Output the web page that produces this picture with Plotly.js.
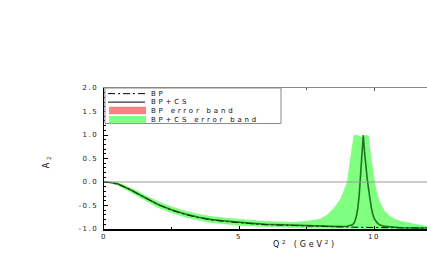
<!DOCTYPE html>
<html>
<head>
<meta charset="utf-8">
<script src="https://cdn.plot.ly/plotly-3.0.1.min.js"></script>
<style>
  html, body { margin: 0; padding: 0; background: #fff; overflow: hidden; }
  #chart { width: 427px; height: 262px; }
  .xtick text, .ytick text { letter-spacing: 1.5px; }
  .annotation-text { letter-spacing: 2.8px; }
</style>
</head>
<body>
<div id="chart"></div>
<script>
// ---- data ----
var q2 = [0,0.25,0.5,0.75,1,1.25,1.5,1.75,2,2.5,3,3.5,4,4.5,5,5.5,6,6.5,7,7.5,8,8.25,8.5,8.75,9,9.1,9.2,9.25,9.3,9.35,9.4,9.45,9.5,9.55,9.6,9.65,9.7,9.75,9.8,9.85,9.9,9.95,10,10.1,10.2,10.4,10.6,10.8,11,11.5,12];

var bpcs = [0,-0.01,-0.04,-0.10,-0.17,-0.25,-0.33,-0.41,-0.48,-0.59,-0.68,-0.75,-0.80,-0.83,-0.86,-0.88,-0.90,-0.91,-0.92,-0.93,-0.94,-0.945,-0.95,-0.95,-0.94,-0.93,-0.91,-0.88,-0.82,-0.72,-0.55,-0.28,0.08,0.58,1.0,0.62,0.3,0.05,-0.16,-0.38,-0.55,-0.68,-0.77,-0.86,-0.91,-0.945,-0.96,-0.97,-0.975,-0.98,-0.98];

var bp = [0,-0.01,-0.04,-0.10,-0.17,-0.25,-0.33,-0.41,-0.48,-0.60,-0.69,-0.76,-0.81,-0.84,-0.87,-0.89,-0.91,-0.92,-0.93,-0.94,-0.95,-0.955,-0.96,-0.96,-0.965,-0.965,-0.965,-0.965,-0.965,-0.965,-0.965,-0.965,-0.965,-0.965,-0.965,-0.965,-0.965,-0.965,-0.965,-0.965,-0.97,-0.97,-0.97,-0.97,-0.97,-0.975,-0.975,-0.975,-0.98,-0.98,-0.98];

var bpcsBandHi = [0.01,0.0,-0.01,-0.06,-0.12,-0.19,-0.27,-0.34,-0.41,-0.52,-0.61,-0.68,-0.73,-0.76,-0.79,-0.81,-0.83,-0.84,-0.85,-0.83,-0.78,-0.70,-0.56,-0.36,0.0,0.45,0.9,1.0,1.0,1.0,1.0,0.99,0.97,0.96,0.97,0.99,1.0,1.0,0.98,0.75,0.5,0.3,0.1,-0.2,-0.4,-0.62,-0.73,-0.79,-0.83,-0.89,-0.94];

var bpcsBandLo = [-0.01,-0.03,-0.07,-0.14,-0.22,-0.31,-0.39,-0.47,-0.55,-0.66,-0.75,-0.82,-0.87,-0.90,-0.93,-0.95,-0.96,-0.97,-0.98,-0.99,-0.995,-1.0,-1.0,-1.0,-1.0,-1.0,-1.0,-1.0,-1.0,-1.0,-1.0,-1.0,-1.0,-1.0,-1.0,-1.0,-1.0,-1.0,-1.0,-1.0,-1.0,-1.0,-1.0,-1.0,-1.0,-1.0,-1.0,-1.0,-1.0,-1.0,-1.0];

var bpBandX  = [0,0.5,1,1.5,2,2.5,3,4,5,6,7,8,9,10,11,12];
var bpBandHi = [0,-0.02,-0.14,-0.30,-0.45,-0.56,-0.65,-0.77,-0.83,-0.87,-0.89,-0.91,-0.93,-0.94,-0.95,-0.955];
var bpBandLo = [0,-0.06,-0.20,-0.36,-0.52,-0.63,-0.72,-0.84,-0.90,-0.94,-0.96,-0.97,-0.98,-0.98,-0.99,-0.99];

var seriesNames = ['BP', 'BP+CS', 'BP error band', 'BP+CS error band'];
var xTickVals = [0, 5, 10];
var xTickText = ['0', '5', '10'];
var yTickVals = [-1, -0.5, 0, 0.5, 1, 1.5, 2];
var yTickText = ['-1.0', '-0.5', '0.0', '0.5', '1.0', '1.5', '2.0'];
var xTitle = 'Q<sup>2</sup> (GeV<sup>2</sup>)';
var yTitle = 'A<sub>2</sub>';

// ---- styles ----
var RED = '#ff8080', GREEN = '#80ff80';
var FONT = 'DejaVu Sans, sans-serif';

function band(x, hi, lo) {
  return {
    x: x.concat(x.slice().reverse()),
    y: hi.concat(lo.slice().reverse())
  };
}
var bBP = band(bpBandX, bpBandHi, bpBandLo);
var bCS = band(q2, bpcsBandHi, bpcsBandLo);

var traces = [
  { x: bBP.x, y: bBP.y, type: 'scatter', mode: 'lines', fill: 'toself',
    fillcolor: RED, line: { width: 0, color: RED }, name: seriesNames[2], showlegend: false, hoverinfo: 'skip' },
  { x: bCS.x, y: bCS.y, type: 'scatter', mode: 'lines', fill: 'toself',
    fillcolor: GREEN, line: { width: 0, color: GREEN }, name: seriesNames[3], showlegend: false, hoverinfo: 'skip' },
  { x: q2, y: bp, type: 'scatter', mode: 'lines', name: seriesNames[0],
    line: { color: '#000', width: 1, dash: '7px,3px,2px,3px' }, showlegend: false },
  { x: q2, y: bpcs, type: 'scatter', mode: 'lines', name: seriesNames[1],
    line: { color: 'rgba(0,70,0,0.75)', width: 1.6 }, showlegend: false }
];

// legend geometry (paper fractions)
var LX0 = 0.003, LX1 = 0.548, LY0 = 0.748, LY1 = 1.0;
var sx0 = 0.0124, sx1 = 0.127, tx = 0.140;
var rows = [0.960, 0.900, 0.840, 0.776];

var shapes = [
  { type: 'line', xref: 'paper', yref: 'y', x0: 0, x1: 1, y0: 0, y1: 0,
    line: { color: '#999', width: 1 }, layer: 'above' },
  { type: 'rect', xref: 'paper', yref: 'paper', x0: LX0, x1: LX1, y0: LY0, y1: LY1,
    line: { color: '#888', width: 1 }, fillcolor: '#fff', layer: 'above' },
  { type: 'line', xref: 'paper', yref: 'paper', x0: sx0, x1: sx1, y0: rows[0], y1: rows[0],
    line: { color: '#000', width: 1, dash: '7px,3px,2px,3px' }, layer: 'above' },
  { type: 'line', xref: 'paper', yref: 'paper', x0: sx0, x1: sx1, y0: rows[1], y1: rows[1],
    line: { color: '#000', width: 1 }, layer: 'above' },
  { type: 'rect', xref: 'paper', yref: 'paper', x0: 0.0155, x1: 0.130, y0: 0.813, y1: 0.867,
    line: { width: 0 }, fillcolor: RED, layer: 'above' },
  { type: 'rect', xref: 'paper', yref: 'paper', x0: 0.0155, x1: 0.130, y0: 0.750, y1: 0.801,
    line: { width: 0 }, fillcolor: GREEN, layer: 'above' }
];

var annotations = seriesNames.map(function (n, i) {
  return { text: n, xref: 'paper', yref: 'paper', x: tx, y: rows[i],
    xanchor: 'left', yanchor: 'middle', showarrow: false,
    font: { family: FONT, size: 7, color: '#111' } };
});
annotations.push({ text: xTitle, xref: 'paper', yref: 'paper', x: 0.622, y: -0.103,
  xanchor: 'center', yanchor: 'middle', showarrow: false,
  font: { family: FONT, size: 8, color: '#111' } });
annotations.push({ text: yTitle, xref: 'paper', yref: 'paper', x: -0.176, y: 0.482,
  xanchor: 'center', yanchor: 'middle', showarrow: false, textangle: -90,
  font: { family: FONT, size: 8, color: '#111' } });

var layout = {
  width: 427, height: 262,
  margin: { l: 104, r: 0, t: 88, b: 33, pad: 0 },
  paper_bgcolor: '#fff', plot_bgcolor: '#fff',
  showlegend: false,
  font: { family: FONT, size: 7, color: '#222' },
  xaxis: {
    range: [0, 11.96], tickvals: xTickVals, ticktext: xTickText,
    ticks: 'inside', ticklen: 3, tickcolor: '#000', tickwidth: 1,
    minor: { dtick: 2.5, tick0: 0, ticks: 'inside', ticklen: 2, tickcolor: '#000', showgrid: false },
    showline: true, linecolor: '#000', linewidth: 1.5,
    showgrid: false, zeroline: false,
    tickfont: { family: FONT, size: 7, color: '#222' }
  },
  xaxis2: {
    overlaying: 'x', side: 'top', matches: 'x', range: [0, 11.96],
    tickvals: xTickVals, showticklabels: false,
    ticks: 'inside', ticklen: 3, tickcolor: '#555',
    minor: { dtick: 2.5, tick0: 0, ticks: 'inside', ticklen: 2, tickcolor: '#555', showgrid: false },
    showline: true, linecolor: '#888', linewidth: 1,
    showgrid: false, zeroline: false
  },
  yaxis: {
    range: [-1, 2], tickvals: yTickVals, ticktext: yTickText,
    ticks: 'inside', ticklen: 4, tickcolor: '#000', tickwidth: 1,
    minor: { dtick: 0.1, tick0: 0, ticks: 'inside', ticklen: 2, tickcolor: '#000', showgrid: false },
    showline: true, linecolor: '#000', linewidth: 1.5,
    showgrid: false, zeroline: false,
    ticklabelstandoff: 3,
    tickfont: { family: FONT, size: 7, color: '#222' }
  },
  shapes: shapes,
  annotations: annotations
};

traces.push({ x: [], y: [], xaxis: 'x2', yaxis: 'y', type: 'scatter', mode: 'lines', showlegend: false, hoverinfo: 'skip' });

Plotly.newPlot('chart', traces, layout, { staticPlot: true, displayModeBar: false });
</script>
</body>
</html>
